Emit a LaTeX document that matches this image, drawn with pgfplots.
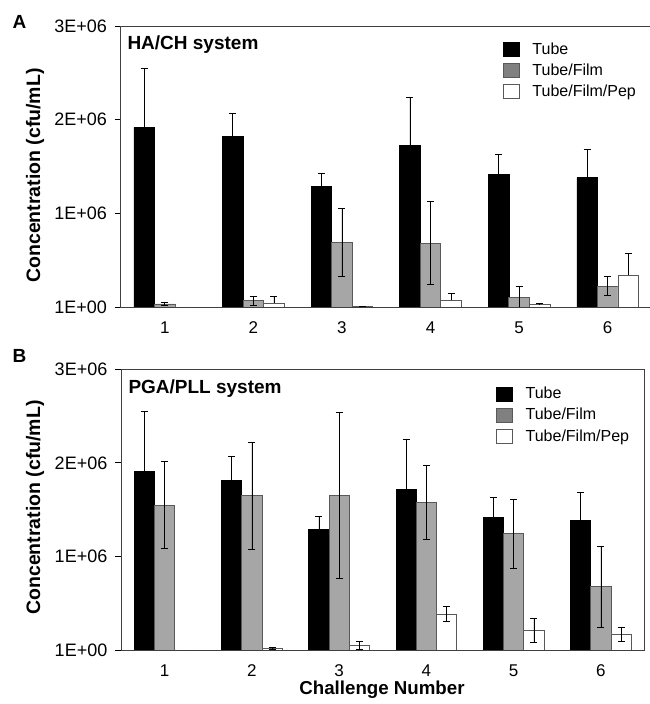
\documentclass[border=0pt]{standalone}
\usepackage{pgfplots}
\pgfplotsset{compat=1.18}
\usepackage{fontspec}
\setmainfont{Liberation Sans}
\definecolor{filmgray}{HTML}{A6A6A6}
\definecolor{legfilm}{HTML}{808080}
\definecolor{edgegray}{HTML}{595959}
\definecolor{axisgray}{HTML}{404040}

\pgfplotsset{
  panel/.style={
    scale only axis, anchor=south west,
    xmin=0.5, xmax=6.5, ymin=0, ymax=3000000,
    xtick={1,2,3,4,5,6}, xtick style={draw=none},
    ytick={0,1000000,2000000,3000000},
    yticklabels={1E+00,1E+06,2E+06,3E+06},
    scaled y ticks=false,
    ytick pos=left, tick align=outside, major tick length=6pt,
    ytick style={black, line width=0.8pt},
    axis line style={axisgray, line width=0.9pt},
    yticklabel style={font=\fontsize{18}{20}\selectfont, inner sep=0pt, xshift=-7.5pt},
    xticklabel style={font=\fontsize{17}{19}\selectfont, inner sep=0pt, yshift=-8.5pt},
    /pgf/number format/assume math mode=true,
    ybar, bar width=0.232,
    legend style={draw=none, fill=none, inner sep=0pt, outer sep=0pt,
      anchor=north west, font=\fontsize{16}{18}\selectfont, row sep=4pt,
      /tikz/every odd column/.style={column sep=11pt}},
    legend cell align=left,
    legend entries={Tube,Tube/Film,Tube/Film/Pep},
  },
  tubebar/.style={fill=black, draw=black, line width=0.6pt, bar shift=-0.232, forget plot},
  filmbar/.style={fill=filmgray, draw=edgegray, line width=0.8pt, bar shift=0, forget plot},
  pepbar/.style={fill=white, draw=edgegray, line width=0.8pt, bar shift=0.232, forget plot},
  eb/.style={error bars/.cd, y dir=#1, y explicit,
    error bar style={black, line width=0.7pt},
    error mark options={rotate=90, black, line width=0.7pt, mark size=3.5pt}},
}

\begin{document}
\begin{tikzpicture}[x=1pt,y=1pt]
\useasboundingbox (0,0) rectangle (649,704);

% ---------------- Panel A ----------------
\begin{axis}[panel, at={(120.5pt,397pt)}, width=531.5pt, height=281pt,
  legend style={at={(rel axis cs:0.719,0.947)}}]
\addlegendimage{legend image code/.code={\draw[fill=black,draw=black] (0pt,-7pt) rectangle (16pt,7pt);}}
\addlegendimage{legend image code/.code={\draw[fill=legfilm,draw=edgegray,line width=0.8pt] (0pt,-7pt) rectangle (16pt,7pt);}}
\addlegendimage{legend image code/.code={\draw[fill=white,draw=edgegray,line width=0.8pt] (0pt,-7pt) rectangle (16pt,7pt);}}
\addplot[tubebar, eb=both] coordinates {
 (1,1918000) +- (0,630000)
 (2,1818000) +- (0,250000)
 (3,1290000) +- (0,135000)
 (4,1722000) +- (0,520000)
 (5,1419000) +- (0,210000)
 (6,1380000) +- (0,300000)};
\addplot[filmbar, eb=both] coordinates {
 (1,32000) +- (0,18000)
 (2,67000) +- (0,45000)
 (3,690000) +- (0,360000)
 (4,683000) +- (0,440000)
 (5,103000) +- (0,120000)
 (6,224000) +- (0,100000)};
\addplot[pepbar, eb=plus] coordinates {
 (1,0) +- (0,0)
 (2,43000) +- (0,70000)
 (3,5000) +- (0,0)
 (4,71000) +- (0,80000)
 (5,25000) +- (0,15000)
 (6,338000) +- (0,240000)};
\end{axis}

% ---------------- Panel B ----------------
\begin{axis}[panel, at={(121pt,54pt)}, width=523.5pt, height=280.7pt,
  legend style={at={(rel axis cs:0.716,0.943)}}]
\addlegendimage{legend image code/.code={\draw[fill=black,draw=black] (0pt,-7pt) rectangle (16pt,7pt);}}
\addlegendimage{legend image code/.code={\draw[fill=legfilm,draw=edgegray,line width=0.8pt] (0pt,-7pt) rectangle (16pt,7pt);}}
\addlegendimage{legend image code/.code={\draw[fill=white,draw=edgegray,line width=0.8pt] (0pt,-7pt) rectangle (16pt,7pt);}}
\addplot[tubebar, eb=both] coordinates {
 (1,1912000) +- (0,640000)
 (2,1809000) +- (0,260000)
 (3,1290000) +- (0,140000)
 (4,1720000) +- (0,530000)
 (5,1417000) +- (0,210000)
 (6,1382000) +- (0,300000)};
\addplot[filmbar, eb=both] coordinates {
 (1,1549000) +- (0,465000)
 (2,1649000) +- (0,570000)
 (3,1653000) +- (0,885000)
 (4,1574000) +- (0,395000)
 (5,1243000) +- (0,370000)
 (6,677000) +- (0,430000)};
\addplot[pepbar, eb=both] coordinates {
 (1,0) +- (0,0)
 (2,20000) +- (0,10000)
 (3,50000) +- (0,43000)
 (4,385000) +- (0,82000)
 (5,207000) +- (0,128000)
 (6,171000) +- (0,75000)};
\end{axis}

% ---------------- Texts ----------------
\node[anchor=base west, inner sep=0pt, font=\fontsize{19}{22}\selectfont\bfseries] at (12.5,675) {A};
\node[anchor=base west, inner sep=0pt, font=\fontsize{19}{22}\selectfont\bfseries] at (12.5,341) {B};
\node[anchor=base west, inner sep=0pt, font=\fontsize{19}{22}\selectfont\bfseries] at (127.3,654) {HA/CH system};
\node[anchor=base west, inner sep=0pt, font=\fontsize{19}{22}\selectfont\bfseries] at (128.3,310) {PGA/PLL system};
\node[rotate=90, inner sep=0pt, font=\fontsize{19.5}{22}\selectfont\bfseries] at (35,528.5) {Concentration (cfu/mL)};
\node[rotate=90, inner sep=0pt, font=\fontsize{19.5}{22}\selectfont\bfseries] at (35,196.5) {Concentration (cfu/mL)};
\node[anchor=base, inner sep=0pt, font=\fontsize{18.7}{22}\selectfont\bfseries] at (382,9.5) {Challenge Number};
\end{tikzpicture}
\end{document}
